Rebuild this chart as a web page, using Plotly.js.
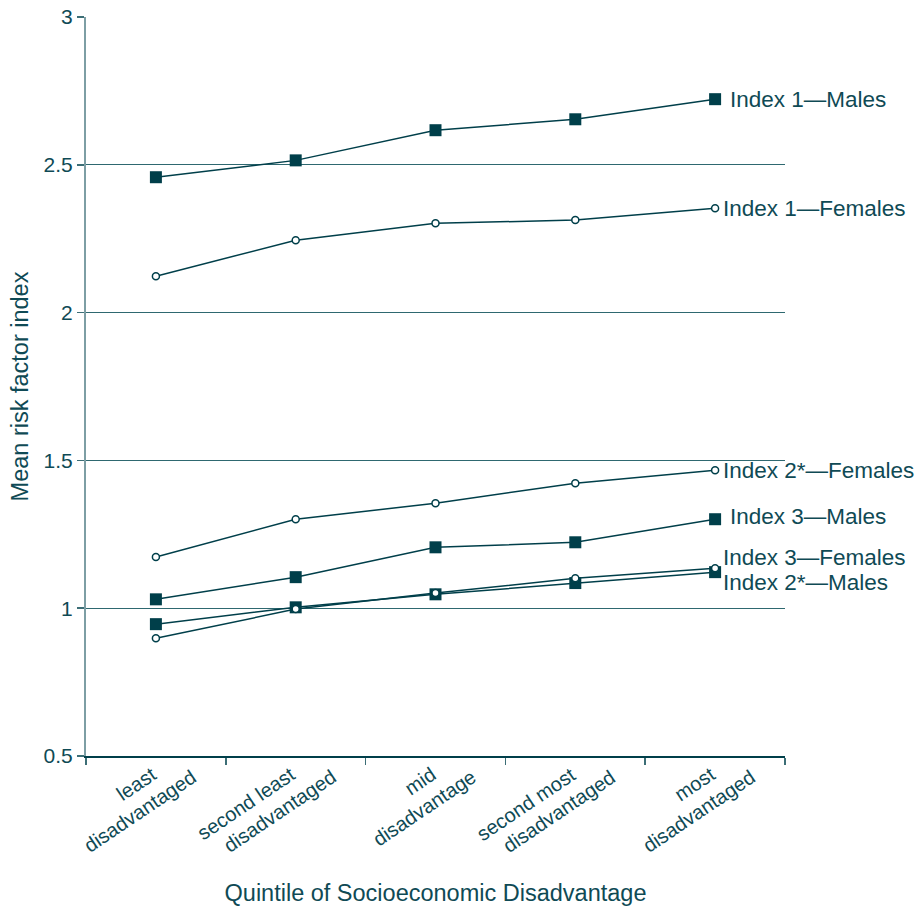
<!DOCTYPE html>
<html>
<head>
<meta charset="utf-8">
<script src="https://cdn.plot.ly/plotly-3.0.1.min.js"></script>
<style>html,body{margin:0;padding:0;background:#fff;}#chart{width:922px;height:907px;}</style>
</head>
<body>
<div id="chart"></div>
<script>
const categories = ["least<br>disadvantaged", "second least<br>disadvantaged", "mid<br>disadvantage", "second most<br>disadvantaged", "most<br>disadvantaged"];
const index1Males = [2.458, 2.515, 2.617, 2.654, 2.722];
const index1Females = [2.123, 2.245, 2.302, 2.313, 2.353];
const index2Females = [1.173, 1.301, 1.355, 1.423, 1.467];
const index3Males = [1.030, 1.105, 1.206, 1.223, 1.301];
const index2Males = [0.946, 1.003, 1.047, 1.085, 1.122];
const index3Females = [0.898, 0.997, 1.051, 1.101, 1.135];
const seriesNames = ["Index 1—Males", "Index 1—Females", "Index 2*—Females", "Index 3—Males", "Index 2*—Males", "Index 3—Females"];
const yTicks = [0.5, 1, 1.5, 2, 2.5, 3];

const dark = "#003f4a";
const textColor = "#0f4a55";
const font = "Liberation Sans, Arial, Helvetica, sans-serif";
const xIdx = categories.map((c, i) => i);

function male(name, y) {
  return {x: xIdx, y: y, name: name, type: "scatter", mode: "lines+markers",
    line: {color: dark, width: 1.5},
    marker: {symbol: "square", size: 12, color: dark}};
}
function female(name, y) {
  return {x: xIdx, y: y, name: name, type: "scatter", mode: "lines+markers",
    line: {color: dark, width: 1.5},
    marker: {symbol: "circle", size: 7, color: "#ffffff", line: {color: dark, width: 1.5}}};
}

const data = [
  male(seriesNames[0], index1Males),
  female(seriesNames[1], index1Females),
  female(seriesNames[2], index2Females),
  male(seriesNames[3], index3Males),
  male(seriesNames[4], index2Males),
  female(seriesNames[5], index3Females)
];

const seriesVals = [index1Males, index1Females, index2Females, index3Males, index2Males, index3Females];
const labelShift = [[13, 0], [6, 0], [6, 0], [13, 3], [6, -10], [6, 11]];
const annotations = [];
seriesNames.forEach((n, i) => {
  annotations.push({x: 4, y: seriesVals[i][4], xref: "x", yref: "y", text: n, showarrow: false,
    xanchor: "left", yanchor: "middle", xshift: labelShift[i][0], yshift: labelShift[i][1],
    font: {family: font, size: 22.5, color: textColor}});
});
const lineShiftX = [7, 47];
const lineShiftY = [-4, -7];
categories.forEach((c, i) => {
  c.split("<br>").forEach((line, j) => {
    annotations.push({x: i, y: 0, xref: "x", yref: "paper", text: line, showarrow: false,
      textangle: -34, xanchor: "right", yanchor: "top",
      xshift: lineShiftX[j], yshift: lineShiftY[j],
      font: {family: font, size: 20, color: textColor}});
  });
});

const layout = {
  width: 922, height: 907,
  margin: {l: 86, r: 137, t: 17, b: 151},
  paper_bgcolor: "#fff", plot_bgcolor: "#fff",
  showlegend: false,
  font: {family: font, color: textColor},
  xaxis: {
    type: "linear", range: [-0.5, 4.5], tickvals: [-0.5, 0.5, 1.5, 2.5, 3.5, 4.5],
    showticklabels: false, ticks: "outside", ticklen: 7, tickcolor: "#3c6e76", tickwidth: 1.5,
    showgrid: false, zeroline: false, showline: true, linecolor: dark, linewidth: 1.5,
    title: {text: "Quintile of Socioeconomic Disadvantage", font: {family: font, size: 23.5, color: textColor}, standoff: 121}
  },
  yaxis: {
    range: [0.5, 3], tickvals: yTicks, ticktext: yTicks.map(String),
    ticks: "outside", ticklen: 7, tickcolor: "#3c6e76", tickwidth: 1.5,
    tickfont: {family: font, size: 21, color: textColor},
    showgrid: true, gridcolor: "#2e6870", gridwidth: 1.3,
    zeroline: false, showline: true, linecolor: "#7d9ea4", linewidth: 2,
    title: {text: "Mean risk factor index", font: {family: font, size: 23.5, color: textColor}, standoff: 8}
  },
  annotations: annotations
};

Plotly.newPlot("chart", data, layout, {displayModeBar: false, staticPlot: true});
</script>
</body>
</html>
